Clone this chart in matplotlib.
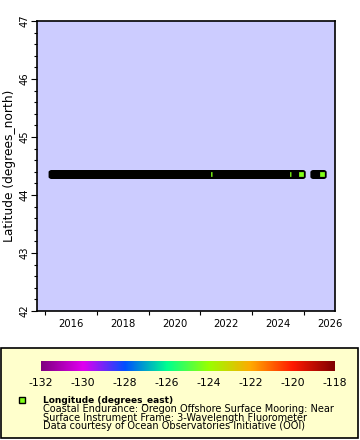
import matplotlib
matplotlib.use('Agg')
import matplotlib.pyplot as plt
from matplotlib.colors import LinearSegmentedColormap, Normalize
from matplotlib.markers import MarkerStyle
from matplotlib.patches import Rectangle
import numpy as np

plt.rcParams['axes.unicode_minus'] = False

# Coverage periods of the mooring (start, end) in decimal years
seg_start = [2015.28, 2021.61, 2024.66, 2025.39]
seg_end = [2021.49, 2024.54, 2024.89, 2025.70]
latitude = 44.37
longitude = -124.30

# colour bar
cbar_ticks = [-132, -130, -128, -126, -124, -122, -120, -118]
cmap_colors = ['#7f0080', '#e000f0', '#0050ff', '#00ff90', '#99ff00',
               '#ffaa00', '#ff1a00', '#800000']

legend_title = 'Longitude (degrees_east)'
legend_lines = ['Coastal Endurance: Oregon Offshore Surface Mooring: Near',
                'Surface Instrument Frame: 3-Wavelength Fluorometer',
                'Data courtesy of Ocean Observatories Initiative (OOI)']

# daily sampling inside each coverage period
times = np.concatenate([np.arange(a, b + 1e-9, 1 / 365.25)
                        for a, b in zip(seg_start, seg_end)])
lats = np.full(times.size, latitude)

cmap = LinearSegmentedColormap.from_list(
    'rb', list(zip(np.linspace(0, 1, len(cmap_colors)), cmap_colors)))
norm = Normalize(-132, -118)
mcol = cmap(norm(longitude))

fig = plt.figure(figsize=(3.6, 4.4), dpi=100)

# legend box in the background
bg = fig.add_axes([0, 0, 1, 1], zorder=-1)
bg.set_xlim(0, 360)
bg.set_ylim(440, 0)
bg.axis('off')
bg.add_patch(Rectangle((1, 348), 357, 90, facecolor='#ffffcc',
                       edgecolor='black', lw=1.2))
bg.add_patch(Rectangle((19, 397), 6, 6, facecolor=mcol,
                       edgecolor='black', lw=1))

ax = fig.add_axes([37 / 360, 129 / 440, 298 / 360, 290 / 440])
ax.set_facecolor('#ccccff')
sq = MarkerStyle('s', joinstyle='miter')
ax.plot(times, lats, linestyle='none', marker=sq, ms=4.0, mfc=mcol,
        mec='black', mew=0.9)
ax.set_xlim(2014.69, 2026.2)
ax.set_ylim(42, 47)
ax.set_xticks([2016, 2018, 2020, 2022, 2024, 2026])
ax.set_xticks(np.arange(2015, 2027, 2), minor=True)
ax.set_yticks(np.arange(42, 48, 1))
ax.set_yticks(np.arange(42, 47.01, 0.2), minor=True)
ax.tick_params(axis='x', which='major', length=0, pad=6, labelsize=7.2)
ax.tick_params(axis='x', which='minor', length=3, width=0.8)
ax.tick_params(axis='y', which='major', length=4, width=0.8, labelsize=7.2,
               labelrotation=90, pad=1)
ax.tick_params(axis='y', which='minor', length=2, width=0.8)
for lab in ax.get_yticklabels():
    lab.set_va('center')
for s in ax.spines.values():
    s.set_linewidth(1.2)
ax.set_ylabel('Latitude (degrees_north)', fontsize=8.8)
ax.yaxis.set_label_coords(-21 / 298, 0.5)

cax = fig.add_axes([41 / 360, 69 / 440, 294 / 360, 10 / 440])
cax.imshow(np.linspace(0, 1, 256)[None, :], aspect='auto', cmap=cmap,
           extent=[-132, -118, 0, 1])
cax.set_xlim(-132, -118)
cax.set_xticks(cbar_ticks)
cax.set_yticks([])
cax.tick_params(axis='x', length=0, labelsize=7.8, pad=5)
for s in cax.spines.values():
    s.set_visible(False)

fig.text(43 / 360, 37 / 440, legend_title, fontsize=6.5, fontweight='bold')
for i, line in enumerate(legend_lines):
    fig.text(43 / 360, (28 - 8.5 * i) / 440, line, fontsize=7.0)

plt.savefig('out.png', dpi=100)
